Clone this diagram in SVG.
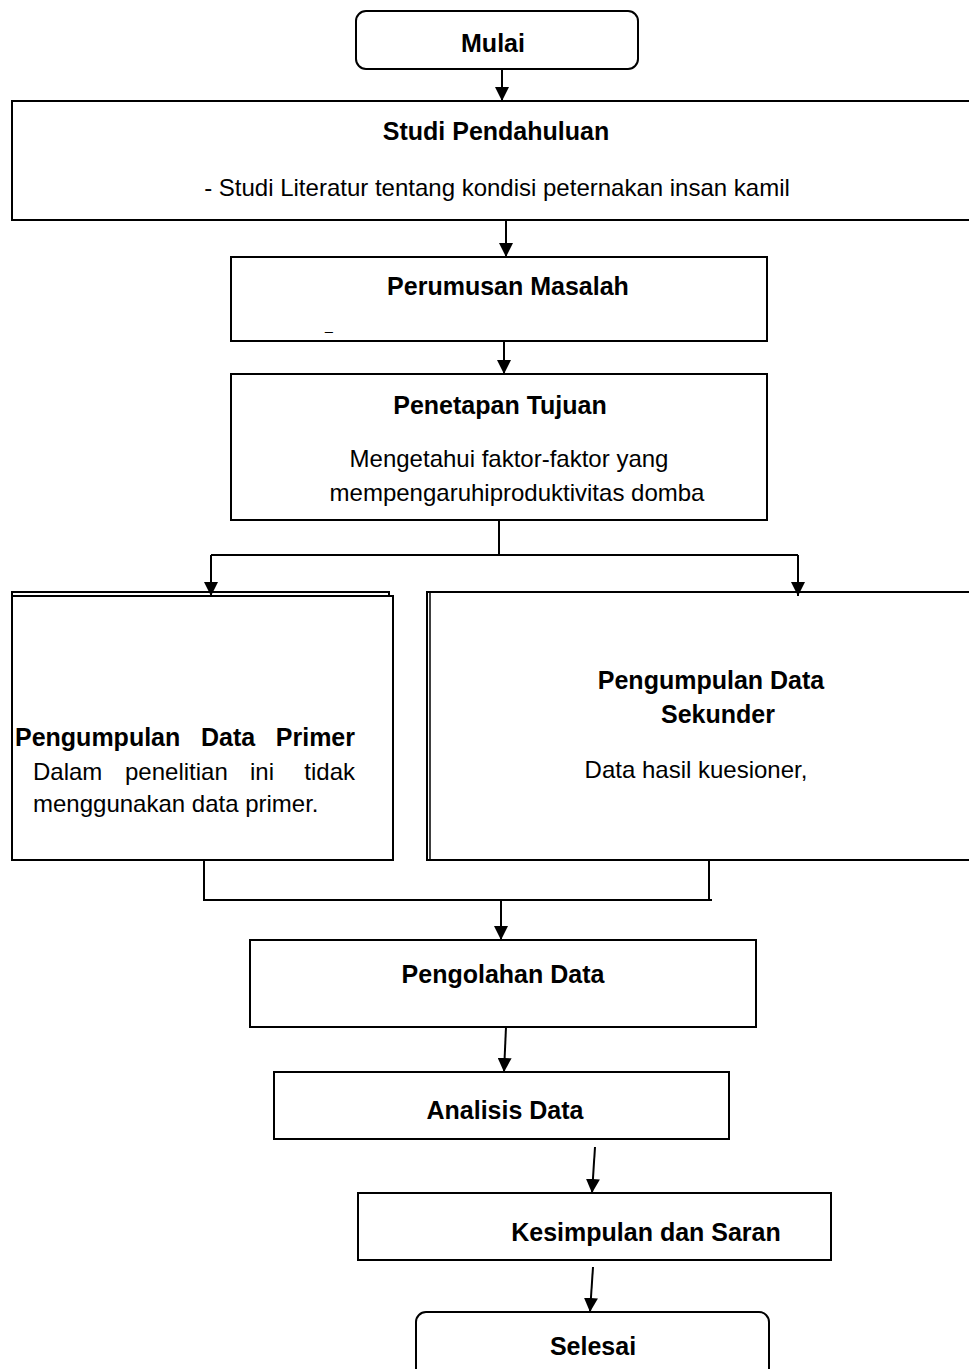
<svg xmlns="http://www.w3.org/2000/svg" width="969" height="1369" viewBox="0 0 969 1369">
<style>
.box{fill:#fff;stroke:#000;stroke-width:2}
.ln{fill:none;stroke:#000;stroke-width:2}
text{font-family:"Liberation Sans",Arial,sans-serif;font-size:24px;fill:#000}
.b{font-weight:bold;font-size:25px;text-anchor:middle}
.bl{font-weight:bold;font-size:25px}
.c{text-anchor:middle}
.e{text-anchor:end}
</style>
<defs>
<marker id="ah" viewBox="0 0 10 10" refX="10" refY="5" markerWidth="14" markerHeight="14" markerUnits="userSpaceOnUse" orient="auto">
<path d="M0,0 L10,5 L0,10 z" fill="#000"/>
</marker>
</defs>
<rect width="969" height="1369" fill="#fff"/>
<g id="mulai"><rect class="box" x="356" y="11" width="282" height="58" rx="10"/><text class="b" x="493" y="52">Mulai</text></g>
<g id="studi"><rect class="box" x="12" y="101" width="965" height="119"/><text class="b" x="496" y="140">Studi Pendahuluan</text><text class="c" x="497" y="196">- Studi Literatur tentang kondisi peternakan insan kamil</text></g>
<g id="perumusan"><rect class="box" x="231" y="257" width="536" height="84"/><text class="b" x="508" y="295">Perumusan Masalah</text><text x="325" y="330" style="font-size:14px">_</text></g>
<g id="penetapan"><rect class="box" x="231" y="374" width="536" height="146"/><text class="b" x="500" y="414">Penetapan Tujuan</text><text class="c" x="509" y="467">Mengetahui faktor-faktor yang</text><text class="c" x="517" y="501">mempengaruhiproduktivitas domba</text></g>
<g id="primer"><rect class="box" x="12" y="592" width="377" height="268"/><rect class="box" x="12" y="596" width="381" height="264"/>
<text class="bl" x="15" y="746">Pengumpulan</text><text class="bl" x="201" y="746">Data</text><text class="bl e" x="355" y="746">Primer</text>
<text x="33" y="780">Dalam</text><text x="125" y="780">penelitian</text><text x="250" y="780">ini</text><text class="e" x="355" y="780">tidak</text>
<text x="33" y="812">menggunakan data primer.</text></g>
<g id="sekunder"><rect class="box" x="427" y="592" width="545" height="268"/><line class="ln" x1="430" y1="592" x2="430" y2="860" style="stroke-width:1.5"/>
<text class="b" x="711" y="689">Pengumpulan Data</text><text class="b" x="718" y="723">Sekunder</text><text class="c" x="696" y="778">Data hasil kuesioner,</text></g>
<g id="pengolahan"><rect class="box" x="250" y="940" width="506" height="87"/><text class="b" x="503" y="983">Pengolahan Data</text></g>
<g id="analisis"><rect class="box" x="274" y="1072" width="455" height="67"/><text class="b" x="505" y="1119">Analisis Data</text></g>
<g id="kesimpulan"><rect class="box" x="358" y="1193" width="473" height="67"/><text class="b" x="646" y="1241">Kesimpulan dan Saran</text></g>
<g id="selesai"><rect class="box" x="416" y="1312" width="353" height="80" rx="10"/><text class="b" x="593" y="1355">Selesai</text></g>
<g id="connectors">
<line class="ln" x1="502" y1="69" x2="502" y2="101" marker-end="url(#ah)"/>
<line class="ln" x1="506" y1="220" x2="506" y2="257" marker-end="url(#ah)"/>
<line class="ln" x1="504" y1="341" x2="504" y2="374" marker-end="url(#ah)"/>
<polyline class="ln" points="499,520 499,555"/>
<polyline class="ln" points="211,555 798,555"/>
<line class="ln" x1="211" y1="555" x2="211" y2="596" marker-end="url(#ah)"/>
<line class="ln" x1="798" y1="555" x2="798" y2="596" marker-end="url(#ah)"/>
<polyline class="ln" points="204,860 204,900 712,900"/>
<line class="ln" x1="709" y1="860" x2="709" y2="900"/>
<line class="ln" x1="501" y1="900" x2="501" y2="940" marker-end="url(#ah)"/>
<line class="ln" x1="506" y1="1027" x2="504" y2="1072" marker-end="url(#ah)"/>
<line class="ln" x1="595" y1="1147" x2="592" y2="1193" marker-end="url(#ah)"/>
<line class="ln" x1="593" y1="1267" x2="590" y2="1312" marker-end="url(#ah)"/>
</g>
</svg>
